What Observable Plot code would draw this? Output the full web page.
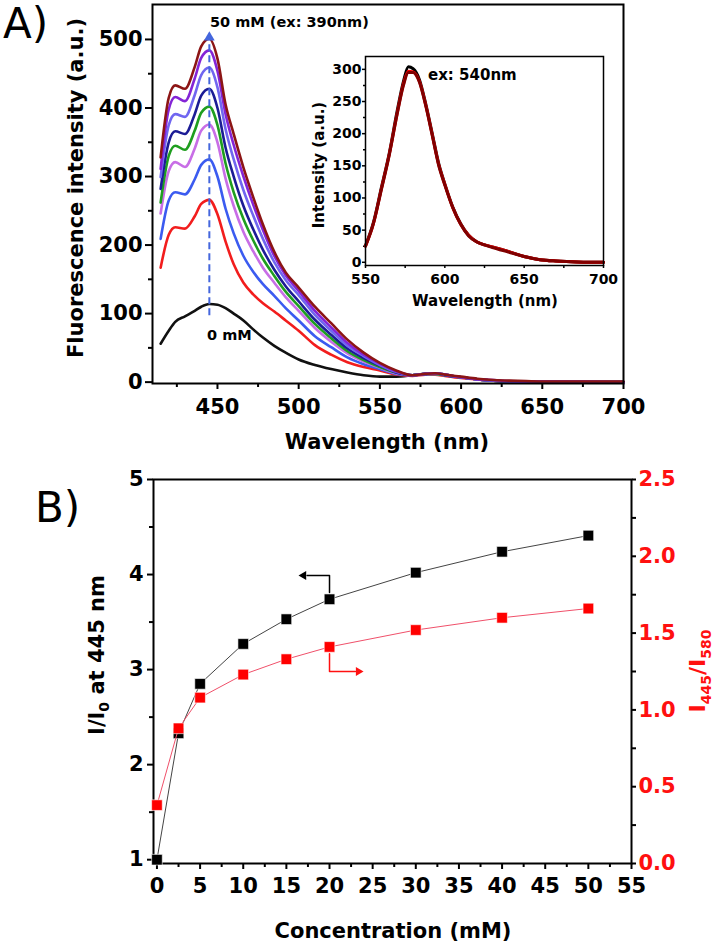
<!DOCTYPE html>
<html><head><meta charset="utf-8">
<script src="https://cdn.jsdelivr.net/npm/d3@7"></script>
<script src="https://cdn.jsdelivr.net/npm/@observablehq/plot@0.6"></script>
<style>
body{margin:0;background:#fff}
#root{position:relative;width:717px;height:948px;overflow:hidden;background:#fff}
</style></head><body><div id="root"></div>
<script>
// ---------- Panel A: emission spectra (ex 390 nm) ----------
const wavelengthA = [415,420,424,430,436,440,445,450,455,460,466,472,478,485,492,500,510,520,530,540,550,560,570,578,584,590,600,610,620,635,650,675,700];
const I_0mM   = [56,75,88,96,104,110,114,113,108,100,90,77,65,53,43,33,25,19,14,10,8,8,10,12,13,11,7,4,2,1,1,0,0];
const I_2_5mM = [167,215,226,224,242,260,266,245,205,172,145,128,115,103,90,75,54,40,29,22,17,11,9,11,11,9,6,4,2,1,1,0,0];
const I_5mM   = [209,265,277,274,296,317,325,300,253,217,184,161,143,126,108,90,67,51,36,26,19,12,10,11,12,10,7,4,2,1,1,0,0];
const I_10mM  = [246,308,321,314,341,367,376,350,297,257,219,191,167,145,124,104,79,59,42,30,21,13,10,12,12,10,7,4,2,1,1,0,0];
const I_15mM  = [262,330,345,339,367,393,402,375,319,277,238,207,180,155,132,111,85,64,45,32,22,14,10,12,12,10,7,4,2,1,1,0,0];
const I_20mM  = [282,350,366,362,391,418,428,400,342,300,257,223,193,164,140,118,91,69,49,35,24,14,10,12,13,10,7,4,2,1,1,0,0];
const I_30mM  = [299,375,391,387,419,448,459,430,369,325,280,243,209,175,149,127,98,75,53,38,25,15,10,12,13,11,7,4,2,1,1,0,0];
const I_40mM  = [311,398,416,410,443,473,484,454,391,346,300,259,222,184,156,133,104,80,57,40,27,16,10,12,13,11,7,4,3,1,1,1,0];
const I_50mM  = [328,415,433,428,460,490,501,472,405,362,313,270,230,190,160,138,110,86,62,43,28,17,10,12,13,11,8,5,3,2,1,1,1];
const seriesNames  = ["0 mM","2.5 mM","5 mM","10 mM","15 mM","20 mM","30 mM","40 mM","50 mM"];
const seriesValues = [I_0mM,I_2_5mM,I_5mM,I_10mM,I_15mM,I_20mM,I_30mM,I_40mM,I_50mM];
const seriesColors = ["#111111","#f21d1d","#3b5bf0","#c86ee6","#1f9e1f","#1c1c95","#7066f0","#8424d6","#8c1515"];
const peakMarker = [{wl:445, from:97, to:503}];
const xTicksA = [450,500,550,600,650,700];
const xMinorA = [425,475,525,575,625,675];
const yTicksA = [0,100,200,300,400,500];
const yMinorA = [50,150,250,350,450];

// ---------- Inset: ex 540 nm ----------
const insetWl     = [550,555,560,565,570,574,577,580,584,588,592,596,600,605,610,615,620,625,630,640,650,660,670,680,690,700];
const insetBlack  = [26,62,116,170,236,282,304,301,284,246,201,155,122,86,60,42,32,27,24,17,9,4,2,1,0,0];
const insetRed    = [25,60,114,168,232,278,297,296,281,244,199,153,121,85,59,42,32,27,24,17,9,4,2,1,0,0];
const insetMaroon = [25,60,113,167,231,276,295,295,280,243,198,152,120,85,59,41,32,27,23,16,9,4,2,1,0,0];
const insetXTicks = [550,600,650,700];
const insetXMinor = [575,625,675];
const insetYTicks = [0,50,100,150,200,250,300];
const insetYMinor = [25,75,125,175,225,275];

// ---------- Panel B ----------
const concentrations = [0,2.5,5,10,15,20,30,40,50];
const ratioI0        = [1.0,2.33,2.85,3.27,3.53,3.74,4.02,4.24,4.41];
const ratio445_580   = [0.38,0.88,1.08,1.23,1.33,1.41,1.52,1.60,1.66];
const arrowBlackPath = [{c:20,v:3.81},{c:20,v:3.99},{c:17.4,v:3.99}];
const arrowBlackHead = [{c:17.0,v:3.99}];
const arrowRedPath   = [{c:20,v:1.365},{c:20,v:1.25},{c:23.0,v:1.25}];
const arrowRedHead   = [{c:23.35,v:1.25}];
const bXTicks = [0,5,10,15,20,25,30,35,40,45,50,55];
const bXMinor = [2.5,7.5,12.5,17.5,22.5,27.5,32.5,37.5,42.5,47.5,52.5];
const bYLeftTicks = [1,2,3,4,5];
const bYLeftMinor = [1.5,2.5,3.5,4.5];
const bYRightTicks = [0,0.5,1.0,1.5,2.0,2.5];
const bYRightMinor = [0.25,0.75,1.25,1.75,2.25];

const FONT = "'DejaVu Sans', 'Liberation Sans', sans-serif";
const root = document.getElementById("root");
function place(svg, top){
  svg.style.position = "absolute"; svg.style.left = "0px"; svg.style.top = top + "px";
  root.appendChild(svg);
}
const baseStyle = (size) => `background:transparent;font-family:${FONT};font-size:${size}px;font-weight:bold;color:black;overflow:visible;max-width:none;`;
const blank = () => "";
const intFmt = d3.format("d");

// long table for spectra
const spectra = [];
seriesNames.forEach((name, i) => {
  wavelengthA.forEach((w, j) => spectra.push({series: name, wl: w, v: seriesValues[i][j]}));
});

const mainA = Plot.plot({
  width: 717, height: 460,
  marginLeft: 152, marginRight: 94, marginTop: 4, marginBottom: 77,
  style: baseStyle(21),
  x: {domain: [410, 700]},
  y: {domain: [-2, 551]},
  color: {domain: seriesNames, range: seriesColors},
  marks: [
    Plot.axisX({ticks: xTicksA, tickSize: 6, tickPadding: 10, strokeWidth: 2, tickFormat: intFmt, label: null}),
    Plot.axisX({ticks: xMinorA, tickSize: 4, strokeWidth: 2, tickFormat: blank, label: null}),
    Plot.axisY({ticks: yTicksA, tickSize: 7, tickPadding: 3, strokeWidth: 2, tickFormat: intFmt, label: null}),
    Plot.axisY({ticks: yMinorA, tickSize: 4, strokeWidth: 2, tickFormat: blank, label: null}),
    Plot.line(spectra, {x: "wl", y: "v", z: "series", stroke: "series", strokeWidth: 2.6, curve: "monotone-x"}),
    Plot.ruleX(peakMarker, {x: "wl", y1: "from", y2: "to", stroke: "#4466dd", strokeWidth: 2, strokeDasharray: "7,4"}),
    Plot.dot(peakMarker, {x: "wl", y: "to", symbol: "triangle", r: 4, fill: "#4466dd", stroke: null}),
    Plot.frame({stroke: "black", strokeWidth: 2})
  ]
});
place(mainA, 0);

const insetRows = [];
[["black", insetBlack], ["red", insetRed], ["maroon", insetMaroon]].forEach(([k, arr]) => {
  insetWl.forEach((w, j) => insetRows.push({k, wl: w, v: arr[j]}));
});
const inset = Plot.plot({
  width: 717, height: 320,
  marginLeft: 365, marginRight: 114, marginTop: 56, marginBottom: 55,
  style: baseStyle(14),
  x: {domain: [550, 700]},
  y: {domain: [-5, 320]},
  color: {domain: ["black","red","maroon"], range: ["#111111","#e0303a","#8c1a2a"]},
  marks: [
    Plot.frame({fill: "white", stroke: null}),
    Plot.axisX({ticks: insetXTicks, tickSize: 3, tickPadding: 6, strokeWidth: 1.5, tickFormat: intFmt, label: null}),
    Plot.axisX({ticks: insetXMinor, tickSize: 3, strokeWidth: 1.5, tickFormat: blank, label: null}),
    Plot.axisY({ticks: insetYTicks, tickSize: 3, tickPadding: 1, strokeWidth: 1.5, tickFormat: intFmt, label: null}),
    Plot.axisY({ticks: insetYMinor, tickSize: 2, strokeWidth: 1.5, tickFormat: blank, label: null}),
    Plot.line(insetRows, {x: "wl", y: "v", z: "k", stroke: "k", strokeWidth: 3, curve: "monotone-x"}),
    Plot.frame({stroke: "black", strokeWidth: 1.5})
  ]
});
place(inset, 0);

const bBlack = concentrations.map((c, i) => ({c, v: ratioI0[i]}));
const bRed = concentrations.map((c, i) => ({c, v: ratio445_580[i]}));

const panelB = Plot.plot({
  width: 717, height: 508,
  marginLeft: 153, marginRight: 86, marginTop: 39, marginBottom: 85,
  style: baseStyle(21),
  x: {domain: [-0.4, 55]},
  y: {domain: [0.96, 5]},
  marks: [
    Plot.axisX({ticks: bXTicks, tickSize: 6, tickPadding: 9, strokeWidth: 2, tickFormat: intFmt, label: null}),
    Plot.axisX({ticks: bXMinor, tickSize: 4, strokeWidth: 2, tickFormat: blank, label: null}),
    Plot.axisY({ticks: bYLeftTicks, tickSize: 6, tickPadding: 4, strokeWidth: 2, tickFormat: intFmt, label: null}),
    Plot.axisY({ticks: bYLeftMinor, tickSize: 4, strokeWidth: 2, tickFormat: blank, label: null}),
    Plot.frame({stroke: "black", strokeWidth: 2}),
    Plot.line(bBlack, {x: "c", y: "v", stroke: "#444", strokeWidth: 1}),
    Plot.dot(bBlack, {x: "c", y: "v", symbol: "square", r: 6, fill: "black", stroke: "white", strokeWidth: 0.6}),
    Plot.line(arrowBlackPath, {x: "c", y: "v", stroke: "black", strokeWidth: 1.5}),
    Plot.dot(arrowBlackHead, {x: "c", y: "v", symbol: "triangle", r: 3.3, rotate: -90, fill: "black", stroke: null})
  ]
});
place(panelB, 440);

const panelBRed = Plot.plot({
  width: 717, height: 508,
  marginLeft: 153, marginRight: 86, marginTop: 39, marginBottom: 85,
  style: baseStyle(21),
  x: {domain: [-0.4, 55], axis: null},
  y: {domain: [0, 2.5]},
  marks: [
    Plot.axisY({anchor: "right", ticks: bYRightTicks, tickSize: 4, tickPadding: 3, strokeWidth: 2, stroke: "black", fill: "#ff1010", tickFormat: d3.format(".1f"), label: null}),
    Plot.axisY({anchor: "right", ticks: bYRightMinor, tickSize: 4, strokeWidth: 2, stroke: "black", tickFormat: blank, label: null}),
    Plot.line(bRed, {x: "c", y: "v", stroke: "#f0506a", strokeWidth: 1}),
    Plot.dot(bRed, {x: "c", y: "v", symbol: "square", r: 6, fill: "#ff0000", stroke: "white", strokeWidth: 0.6}),
    Plot.line(arrowRedPath, {x: "c", y: "v", stroke: "#ff1010", strokeWidth: 1.5}),
    Plot.dot(arrowRedHead, {x: "c", y: "v", symbol: "triangle", r: 3.3, rotate: 90, fill: "#ff1010", stroke: null})
  ]
});
place(panelBRed, 440);

// ---------- Text annotations ----------
const ann = d3.select(root).append("svg")
  .attr("width", 717).attr("height", 948)
  .style("position", "absolute").style("left", "0px").style("top", "0px")
  .attr("font-family", FONT);

function label(x, y, str, size, opts = {}) {
  const t = ann.append("text")
    .attr("transform", `translate(${x},${y})` + (opts.rotate ? ` rotate(${opts.rotate})` : ""))
    .attr("font-size", size)
    .attr("font-weight", opts.weight || "bold")
    .attr("text-anchor", opts.anchor || "start")
    .attr("fill", opts.fill || "black");
  t.text(str);
  return t;
}
label(3, 38, "A)", 42, {weight: "normal"});
label(35, 522, "B)", 42, {weight: "normal"});
label(210, 27, "50 mM (ex: 390nm)", 14.5);
label(207, 340, "0 mM", 14.5);
label(428, 80, "ex: 540nm", 15);
label(83, 188, "Fluorescence intensity (a.u.)", 21, {rotate: -90, anchor: "middle"});
label(387, 449, "Wavelength (nm)", 21, {anchor: "middle"});
label(324, 165, "Intensity (a.u.)", 15, {rotate: -90, anchor: "middle"});
label(485, 306, "Wavelength (nm)", 15, {anchor: "middle"});
label(393, 938, "Concentration (mM)", 21, {anchor: "middle"});

// I/I0 at 445 nm
{
  const t = ann.append("text").attr("transform", "translate(104,655) rotate(-90)")
    .attr("font-size", 21).attr("font-weight", "bold").attr("text-anchor", "middle");
  t.append("tspan").text("I/I");
  t.append("tspan").attr("font-size", 14).attr("dy", 5).text("0");
  t.append("tspan").attr("dy", -5).text(" at 445 nm");
}
// I445/I580
{
  const t = ann.append("text").attr("transform", "translate(705,671) rotate(-90)")
    .attr("font-size", 22).attr("font-weight", "bold").attr("text-anchor", "middle").attr("fill", "#ff1010");
  t.append("tspan").text("I");
  t.append("tspan").attr("font-size", 14).attr("dy", 6).text("445");
  t.append("tspan").attr("dy", -6).text("/I");
  t.append("tspan").attr("font-size", 14).attr("dy", 6).text("580");
}
</script>
</body></html>
